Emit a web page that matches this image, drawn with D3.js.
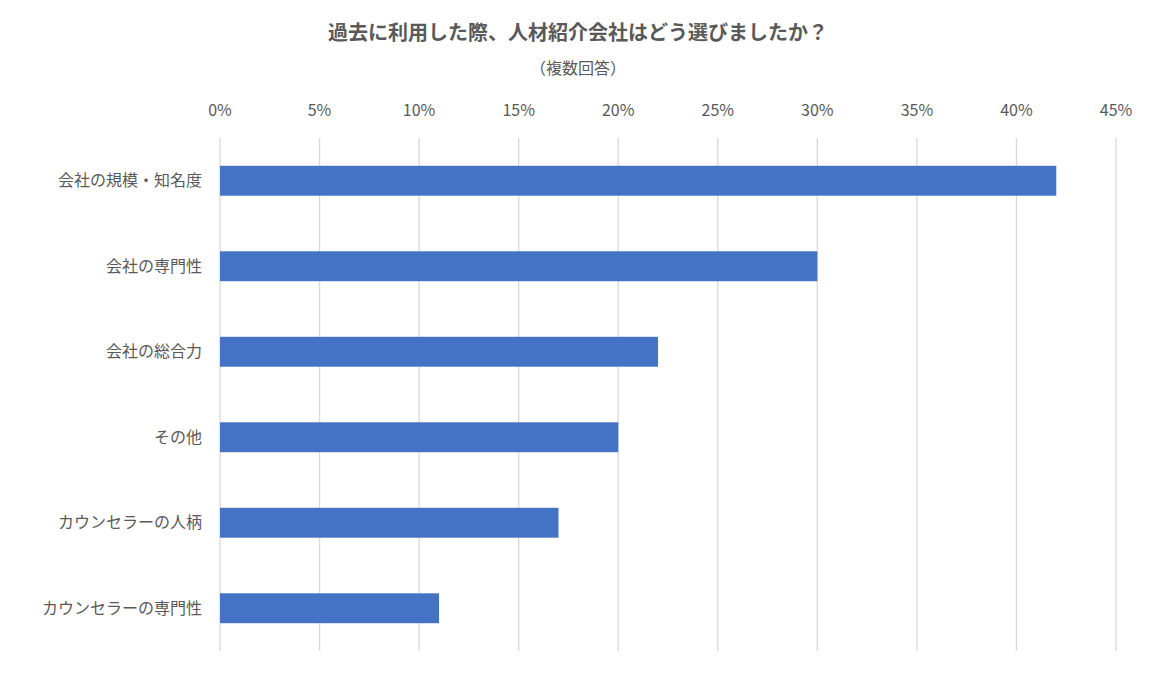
<!DOCTYPE html>
<html><head><meta charset="utf-8">
<script src="https://cdn.jsdelivr.net/npm/d3@7"></script>
<style>body{margin:0;background:#fff;font-family:"Noto Sans CJK JP","Noto Sans",sans-serif;}</style>
</head><body><div id="chart"></div>
<script>
var categories = ["会社の規模・知名度", "会社の専門性", "会社の総合力", "その他", "カウンセラーの人柄", "カウンセラーの専門性"];
var values = [42, 30, 22, 20, 17, 11];
var ticks = [0, 5, 10, 15, 20, 25, 30, 35, 40, 45];

var width = 1157, height = 674;
var svg = d3.select("#chart").append("svg").attr("width", width).attr("height", height);

var x = d3.scaleLinear().domain([0, 45]).range([220, 1116]);
var y = d3.scaleBand().domain(categories).range([138, 651]).paddingInner(0.65).paddingOuter(0.325);

svg.append("g").selectAll("line").data(ticks).enter().append("line")
    .attr("x1", d => x(d)).attr("x2", d => x(d))
    .attr("y1", 138).attr("y2", 651)
    .attr("stroke", "#d9d9d9").attr("stroke-width", 1.3);

svg.append("g").selectAll("text").data(ticks).enter().append("text")
    .attr("x", d => x(d)).attr("y", 116)
    .attr("text-anchor", "middle").attr("font-size", 16).attr("fill", "#595959")
    .text(d => d + "%");

svg.append("g").selectAll("rect").data(values).enter().append("rect")
    .attr("x", x(0)).attr("y", (d, i) => y(categories[i]))
    .attr("width", d => x(d) - x(0)).attr("height", y.bandwidth())
    .attr("fill", "#4472c4");

svg.append("g").selectAll("text").data(categories).enter().append("text")
    .attr("x", 202).attr("y", d => y(d) + y.bandwidth() / 2)
    .attr("dy", "0.35em").attr("text-anchor", "end")
    .attr("font-size", 16).attr("fill", "#595959")
    .text(d => d);

svg.append("text").attr("x", 578).attr("y", 40).attr("text-anchor", "middle")
    .attr("font-size", 20).attr("font-weight", "bold").attr("fill", "#595959")
    .text("過去に利用した際、人材紹介会社はどう選びましたか？");
svg.append("text").attr("x", 578).attr("y", 74).attr("text-anchor", "middle")
    .attr("font-size", 16).attr("fill", "#595959")
    .text("（複数回答）");
</script></body></html>
